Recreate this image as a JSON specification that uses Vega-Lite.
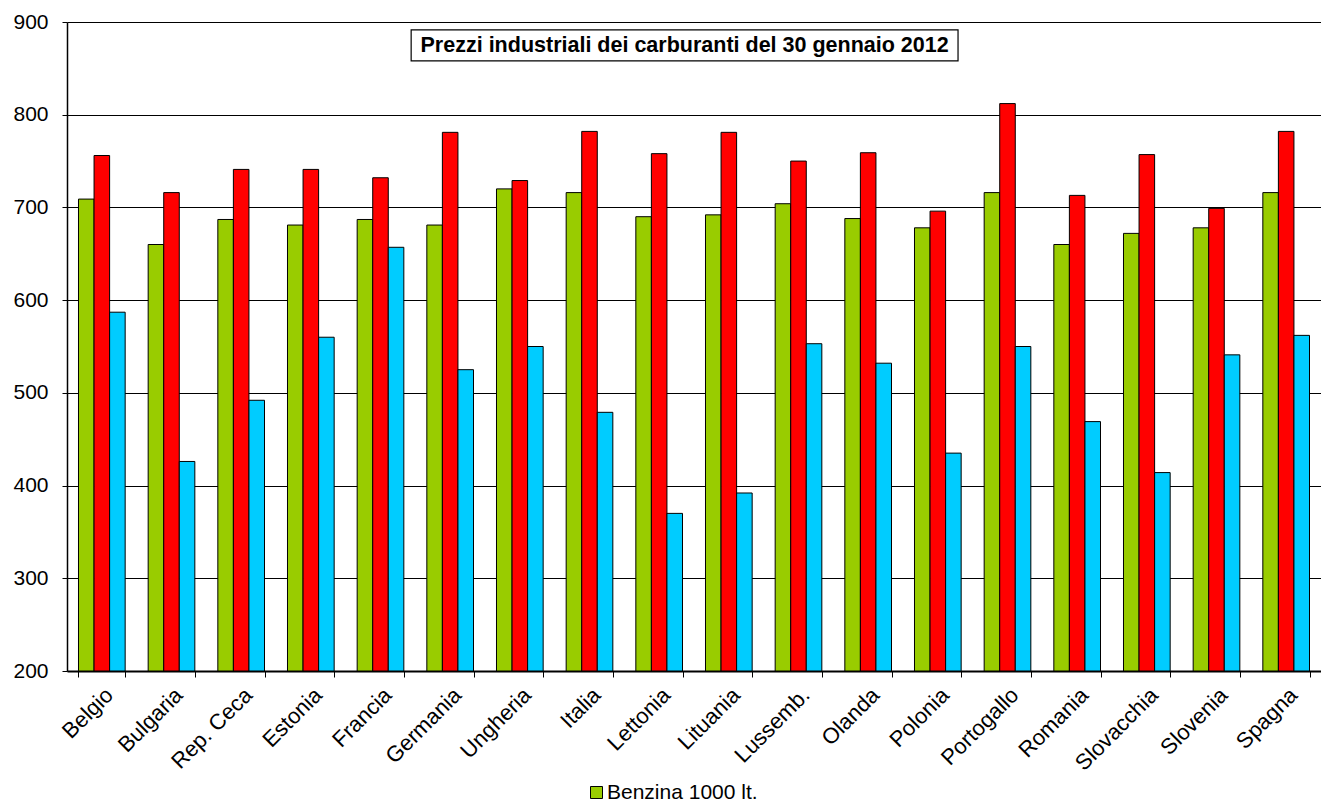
{
  "$schema": "https://vega.github.io/schema/vega-lite/v6.json",
  "width": 1254,
  "height": 649,
  "autosize": {"type": "none"},
  "padding": {"left": 67, "top": 22, "right": 0, "bottom": 134},
  "background": "white",
  "config": {
    "font": "Liberation Sans",
    "view": {"stroke": null},
    "axis": {"labelFont": "Liberation Sans", "labelColor": "black", "domainColor": "black", "tickColor": "black", "gridColor": "black", "gridOpacity": 1}
  },
  "datasets": {
    "prezzi": [
      {"paese": "Belgio", "serie": "Benzina 1000 lt.", "valore": 709},
      {"paese": "Belgio", "serie": "Gasolio 1000 lt.", "valore": 756},
      {"paese": "Belgio", "serie": "GPL 1000 lt.", "valore": 587},
      {"paese": "Bulgaria", "serie": "Benzina 1000 lt.", "valore": 660},
      {"paese": "Bulgaria", "serie": "Gasolio 1000 lt.", "valore": 716},
      {"paese": "Bulgaria", "serie": "GPL 1000 lt.", "valore": 426},
      {"paese": "Rep. Ceca", "serie": "Benzina 1000 lt.", "valore": 687},
      {"paese": "Rep. Ceca", "serie": "Gasolio 1000 lt.", "valore": 741},
      {"paese": "Rep. Ceca", "serie": "GPL 1000 lt.", "valore": 492},
      {"paese": "Estonia", "serie": "Benzina 1000 lt.", "valore": 681},
      {"paese": "Estonia", "serie": "Gasolio 1000 lt.", "valore": 741},
      {"paese": "Estonia", "serie": "GPL 1000 lt.", "valore": 560},
      {"paese": "Francia", "serie": "Benzina 1000 lt.", "valore": 687},
      {"paese": "Francia", "serie": "Gasolio 1000 lt.", "valore": 732},
      {"paese": "Francia", "serie": "GPL 1000 lt.", "valore": 657},
      {"paese": "Germania", "serie": "Benzina 1000 lt.", "valore": 681},
      {"paese": "Germania", "serie": "Gasolio 1000 lt.", "valore": 781},
      {"paese": "Germania", "serie": "GPL 1000 lt.", "valore": 525},
      {"paese": "Ungheria", "serie": "Benzina 1000 lt.", "valore": 720},
      {"paese": "Ungheria", "serie": "Gasolio 1000 lt.", "valore": 729},
      {"paese": "Ungheria", "serie": "GPL 1000 lt.", "valore": 550},
      {"paese": "Italia", "serie": "Benzina 1000 lt.", "valore": 716},
      {"paese": "Italia", "serie": "Gasolio 1000 lt.", "valore": 782},
      {"paese": "Italia", "serie": "GPL 1000 lt.", "valore": 479},
      {"paese": "Lettonia", "serie": "Benzina 1000 lt.", "valore": 690},
      {"paese": "Lettonia", "serie": "Gasolio 1000 lt.", "valore": 758},
      {"paese": "Lettonia", "serie": "GPL 1000 lt.", "valore": 370},
      {"paese": "Lituania", "serie": "Benzina 1000 lt.", "valore": 692},
      {"paese": "Lituania", "serie": "Gasolio 1000 lt.", "valore": 781},
      {"paese": "Lituania", "serie": "GPL 1000 lt.", "valore": 392},
      {"paese": "Lussemb.", "serie": "Benzina 1000 lt.", "valore": 704},
      {"paese": "Lussemb.", "serie": "Gasolio 1000 lt.", "valore": 750},
      {"paese": "Lussemb.", "serie": "GPL 1000 lt.", "valore": 553},
      {"paese": "Olanda", "serie": "Benzina 1000 lt.", "valore": 688},
      {"paese": "Olanda", "serie": "Gasolio 1000 lt.", "valore": 759},
      {"paese": "Olanda", "serie": "GPL 1000 lt.", "valore": 532},
      {"paese": "Polonia", "serie": "Benzina 1000 lt.", "valore": 678},
      {"paese": "Polonia", "serie": "Gasolio 1000 lt.", "valore": 696},
      {"paese": "Polonia", "serie": "GPL 1000 lt.", "valore": 435},
      {"paese": "Portogallo", "serie": "Benzina 1000 lt.", "valore": 716},
      {"paese": "Portogallo", "serie": "Gasolio 1000 lt.", "valore": 812},
      {"paese": "Portogallo", "serie": "GPL 1000 lt.", "valore": 550},
      {"paese": "Romania", "serie": "Benzina 1000 lt.", "valore": 660},
      {"paese": "Romania", "serie": "Gasolio 1000 lt.", "valore": 713},
      {"paese": "Romania", "serie": "GPL 1000 lt.", "valore": 469},
      {"paese": "Slovacchia", "serie": "Benzina 1000 lt.", "valore": 672},
      {"paese": "Slovacchia", "serie": "Gasolio 1000 lt.", "valore": 757},
      {"paese": "Slovacchia", "serie": "GPL 1000 lt.", "valore": 414},
      {"paese": "Slovenia", "serie": "Benzina 1000 lt.", "valore": 678},
      {"paese": "Slovenia", "serie": "Gasolio 1000 lt.", "valore": 699},
      {"paese": "Slovenia", "serie": "GPL 1000 lt.", "valore": 541},
      {"paese": "Spagna", "serie": "Benzina 1000 lt.", "valore": 716},
      {"paese": "Spagna", "serie": "Gasolio 1000 lt.", "valore": 782},
      {"paese": "Spagna", "serie": "GPL 1000 lt.", "valore": 562}
    ],
    "titolo": [
      {"testo": "Prezzi industriali dei carburanti del 30 gennaio 2012", "x0": 4.94, "x1": 12.79, "xc": 8.865, "y0": 858, "y1": 891.5, "yc": 874.5}
    ]
  },
  "layer": [
    {
      "data": {"name": "prezzi"},
      "mark": {"type": "bar", "stroke": "black", "strokeWidth": 1},
      "encoding": {
        "x": {
          "field": "paese", "type": "nominal", "sort": null,
          "scale": {"paddingInner": 0.33, "paddingOuter": 0.165},
          "axis": {"title": null, "labelAngle": -45, "labelFontSize": 22, "labelPadding": 7, "tickBand": "extent", "tickSize": 6, "domainWidth": 2, "grid": false}
        },
        "xOffset": {"field": "serie", "type": "nominal", "sort": ["Benzina 1000 lt.", "Gasolio 1000 lt.", "GPL 1000 lt."]},
        "y": {
          "field": "valore", "type": "quantitative",
          "scale": {"domain": [200, 900], "nice": false, "zero": false},
          "axis": {"title": null, "values": [200, 300, 400, 500, 600, 700, 800, 900], "labelFontSize": 21, "tickSize": 5, "labelPadding": 14, "grid": true, "gridWidth": 1, "domainWidth": 1.5}
        },
        "y2": {"datum": 200},
        "color": {
          "field": "serie", "type": "nominal",
          "scale": {"domain": ["Benzina 1000 lt.", "Gasolio 1000 lt.", "GPL 1000 lt."], "range": ["#99CC00", "#FF0000", "#00CCFF"]},
          "legend": {"title": null, "values": ["Benzina 1000 lt."], "orient": "none", "legendX": 519, "legendY": 760, "padding": 0, "symbolType": "square", "symbolSize": 144, "symbolStrokeColor": "black", "symbolStrokeWidth": 1, "labelFontSize": 21, "labelFont": "Liberation Sans", "labelColor": "black", "labelOffset": 0}
        }
      }
    },
    {
      "data": {"name": "titolo"},
      "mark": {"type": "rect", "fill": "white", "stroke": "black", "strokeWidth": 1.2},
      "encoding": {
        "x": {"field": "x0", "type": "quantitative", "scale": {"domain": [0, 18], "nice": false, "zero": false}, "axis": null},
        "x2": {"field": "x1"},
        "y": {"field": "y0", "type": "quantitative"},
        "y2": {"field": "y1"}
      }
    },
    {
      "data": {"name": "titolo"},
      "mark": {"type": "text", "font": "Liberation Sans", "fontWeight": "bold", "fontSize": 21.5, "color": "black", "align": "center", "baseline": "middle"},
      "encoding": {
        "x": {"field": "xc", "type": "quantitative", "scale": {"domain": [0, 18], "nice": false, "zero": false}, "axis": null},
        "y": {"field": "yc", "type": "quantitative"},
        "text": {"field": "testo"}
      }
    }
  ],
  "resolve": {"scale": {"x": "independent"}}
}
